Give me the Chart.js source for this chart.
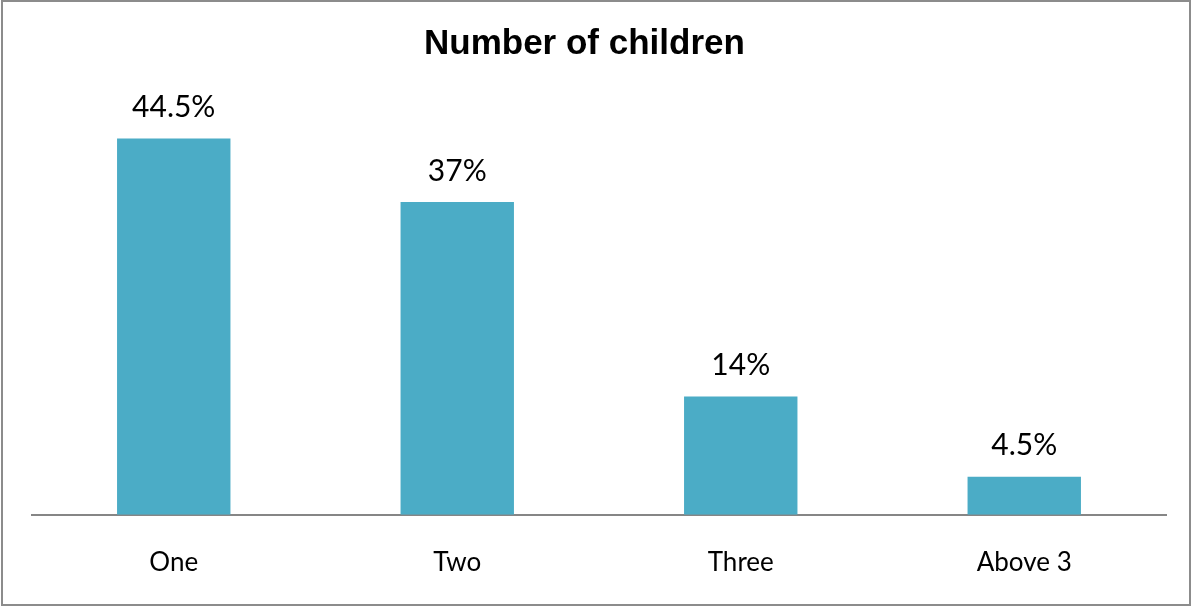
<!DOCTYPE html>
<html>
<head>
<meta charset="utf-8">
<script src="https://cdn.jsdelivr.net/npm/chart.js@4"></script>
<style>
  html, body { margin: 0; padding: 0; background: #fff; }
  #wrap { position: relative; width: 1193px; height: 608px; }
  #frame { position: absolute; left: 1px; top: 0; width: 1190px; height: 606px; border: 2px solid #8c8c8c; box-sizing: border-box; pointer-events: none; }
</style>
</head>
<body>
<div id="wrap">
  <canvas id="childrenChart" width="1193" height="608"></canvas>
  <div id="frame"></div>
</div>
<script>
// data
var categories = ["One", "Two", "Three", "Above 3"];
var shares = [44.5, 37, 14, 4.5];
var shareLabels = ["44.5%", "37%", "14%", "4.5%"];

var barColor = "#4BACC6";
var axisGray = "#868686";

// draws the value above each bar
var valueLabels = {
  id: "valueLabels",
  afterDatasetsDraw: function (chart) {
    var ctx = chart.ctx;
    var meta = chart.getDatasetMeta(0);
    ctx.save();
    ctx.font = "30px Lato";
    ctx.fillStyle = "#000";
    ctx.textAlign = "center";
    ctx.textBaseline = "middle";
    for (var i = 0; i < meta.data.length; i++) {
      var bar = meta.data[i];
      ctx.fillText(shareLabels[i], bar.x, bar.y - 31);
    }
    ctx.restore();
  }
};

new Chart(document.getElementById("childrenChart"), {
  type: "bar",
  data: {
    labels: categories,
    datasets: [{
      data: shares,
      backgroundColor: barColor,
      borderWidth: 0,
      categoryPercentage: 1,
      barPercentage: 0.4
    }]
  },
  options: {
    responsive: false,
    animation: false,
    layout: { padding: { left: 32, right: 27, top: 0, bottom: -2 } },
    plugins: {
      legend: { display: false },
      tooltip: { enabled: false },
      title: {
        display: true,
        // trailing spaces nudge the centred title a bit left, like the original
        text: "Number of children   ",
        color: "#000",
        font: { family: "Liberation Sans", size: 35, weight: "bold" },
        padding: { top: 23, bottom: 27 }
      }
    },
    scales: {
      x: {
        grid: { display: false, drawTicks: false },
        border: { display: true, color: axisGray, width: 2 },
        ticks: { color: "#000", font: { family: "Lato", size: 26 }, padding: 32 }
      },
      y: {
        display: false,
        min: 0,
        max: 50
      }
    }
  },
  plugins: [valueLabels]
});
</script>
</body>
</html>
